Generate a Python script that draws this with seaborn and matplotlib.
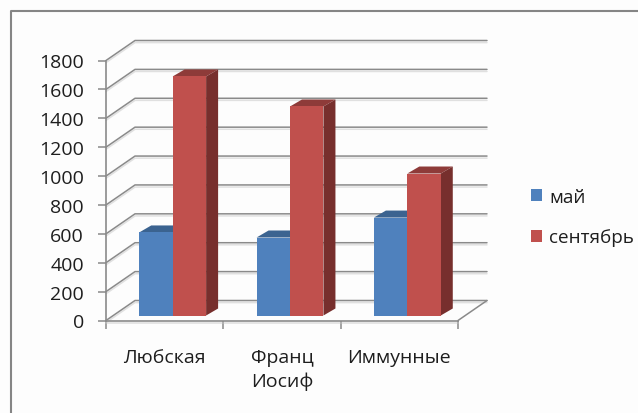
import matplotlib
matplotlib.use("Agg")
import matplotlib.pyplot as plt
import matplotlib.patheffects as pe
from matplotlib.lines import Line2D
from matplotlib.patches import Patch, Polygon
from matplotlib.transforms import Affine2D
import pandas as pd
import seaborn as sns

# Values
categories = ["Любская", "Франц\nИосиф", "Иммунные"]
series_names = ["май", "сентябрь"]
may_values = [575, 540, 678]
september_values = [1655, 1447, 983]
y_ticks = list(range(0, 2000, 200))

# Colours
front_colors = ["#4F81BD", "#C0504D"]
top_colors = ["#3B6390", "#8E3B39"]
side_colors = ["#345679", "#772F2D"]
grid_color = "#8A8A8A"
text_color = "#1E1E1E"

sns.set_theme(style="white")
plt.rcParams["font.family"] = ["Open Sans", "DejaVu Sans"]

W, H = 638, 414
fig = plt.figure(figsize=(W / 100, H / 100), dpi=100, facecolor="#FDFDFD")
left, right, top, bottom = 106, 458, 61.5, 321.5
ax = fig.add_axes([left / W, 1 - bottom / H, (right - left) / W, (bottom - top) / H])
ax.patch.set_alpha(0)

table = pd.DataFrame({
    "category": categories * 2,
    "series": [series_names[0]] * 3 + [series_names[1]] * 3,
    "value": may_values + september_values,
})
sns.barplot(data=table, x="category", y="value", hue="series", hue_order=series_names,
            palette=front_colors, width=0.57, gap=0, saturation=1, legend=False,
            linewidth=0, ax=ax, zorder=3)
ax.set_xlim(-0.5, 2.5)
ax.set_ylim(0, 1800)
ax.set_xlabel("")
ax.set_ylabel("")

# Pixel-to-data factors used for the oblique projection
px_x = 3 / (right - left)
px_y = 1800 / (bottom - top)

# Back wall grid and floor edges, drawn in oblique projection
wall_dx, wall_dy = 29 * px_x, 20 * px_y
shadow = [pe.SimpleLineShadow(offset=(0, -1.5), shadow_color="#C4C4C4", alpha=0.5), pe.Normal()]
for tick in y_ticks:
    ax.plot([-0.5, -0.5 + wall_dx, 2.5 + wall_dx], [tick, tick + wall_dy, tick + wall_dy],
            color=grid_color, lw=1.1, clip_on=False, zorder=1, path_effects=shadow)
ax.plot([2.5, 2.5 + wall_dx], [0, wall_dy], color=grid_color, lw=1.1, clip_on=False, zorder=1)

# Bars stand in the middle of the floor depth; each gets a top and a side face
shift_x, shift_y = 8, 5
depth_x, depth_y = 12 * px_x, 7 * px_y
bars = [p for p in ax.patches if p.get_height() > 0]
for i, bar in enumerate(bars):
    series_index = i // 3
    x0 = bar.get_x() + shift_x * px_x
    x1 = x0 + bar.get_width()
    y0 = shift_y * px_y
    y1 = bar.get_height() + y0
    bar.set_transform(ax.transData + Affine2D().translate(shift_x, shift_y))
    bar.set_clip_on(False)
    ax.add_patch(Polygon([(x0, y1), (x1, y1), (x1 + depth_x, y1 + depth_y), (x0 + depth_x, y1 + depth_y)],
                         closed=True, fc=top_colors[series_index], ec="none",
                         clip_on=False, zorder=2.5 + series_index))
    ax.add_patch(Polygon([(x1, y0), (x1 + depth_x, y0 + depth_y), (x1 + depth_x, y1 + depth_y), (x1, y1)],
                         closed=True, fc=side_colors[series_index], ec="none",
                         clip_on=False, zorder=2.5 + series_index))
    bar.set_zorder(3 + series_index)

# Axes
for name in ["top", "right"]:
    ax.spines[name].set_visible(False)
for name in ["left", "bottom"]:
    ax.spines[name].set_color(grid_color)
    ax.spines[name].set_linewidth(1.2)
ax.spines["bottom"].set_path_effects(shadow)
ax.set_yticks(y_ticks)
ax.set_yticklabels([str(t) for t in y_ticks])
ax.tick_params(axis="y", left=True, length=6, width=1.1, color=grid_color, pad=10,
               labelsize=14, labelcolor=text_color)
ax.set_xticks([0, 1, 2])
ax.set_xticklabels(categories, linespacing=1.38)
ax.set_xticks([-0.5, 0.5, 1.5, 2.5], minor=True)
ax.tick_params(axis="x", which="major", bottom=False, pad=13.5, labelsize=14, labelcolor=text_color)
ax.tick_params(axis="x", which="minor", bottom=True, length=6, width=1.1, color=grid_color)

# Legend
handles = [Patch(fc=c, ec="none") for c in front_colors]
fig.legend(handles, series_names, loc="center left", frameon=False,
           bbox_to_anchor=(514 / W, 1 - 218 / H), fontsize=13.6, labelcolor=text_color,
           handlelength=0.59, handleheight=0.59, handletextpad=0.38, labelspacing=1.2)

# Outer chart border: top and left edges only
fig.add_artist(Line2D([10.5 / W, 10.5 / W, 1], [0, 1 - 12 / H, 1 - 12 / H],
                      transform=fig.transFigure, color="#858585", lw=1.5))

fig.savefig("out.png", dpi=100, facecolor=fig.get_facecolor())
